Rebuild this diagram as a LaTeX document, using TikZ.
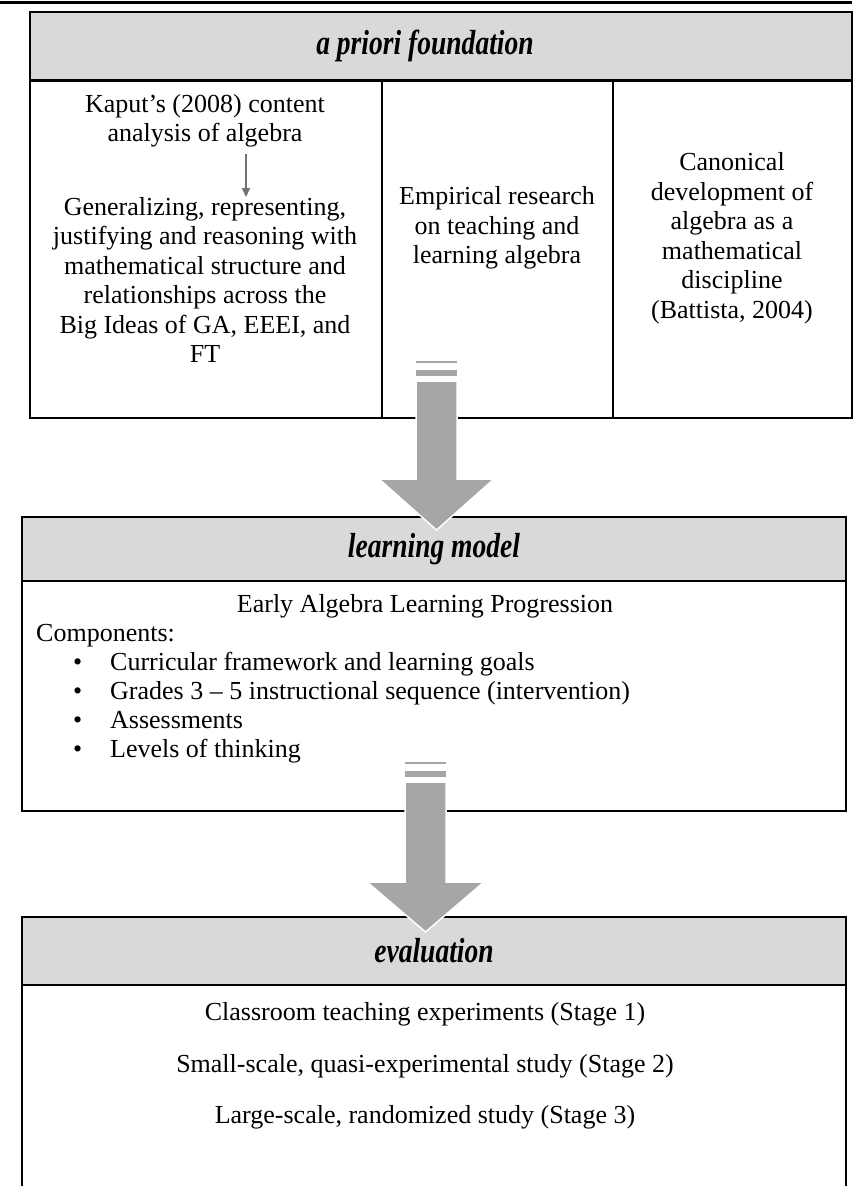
\documentclass[tikz,border=0pt]{standalone}
\usepackage{fontspec}
\setmainfont{Liberation Serif}
\usetikzlibrary{arrows.meta, positioning}
\definecolor{headgray}{HTML}{D9D9D9}
\definecolor{arrowgray}{HTML}{A6A6A6}
\newcommand{\headfont}[1]{\scalebox{0.95}[1.2]{#1}}

\begin{document}
\begin{tikzpicture}[x=1pt, y=-1pt,
    txt/.style={align=center, font=\fontsize{26}{29.5}\selectfont, inner sep=0pt},
    head/.style={draw, line width=2.2pt, fill=headgray, outer sep=0pt},
    headtxt/.style={font=\fontsize{29}{32}\selectfont\bfseries\itshape, inner sep=0pt},
    cell/.style={draw, line width=1.2pt, outer sep=0pt},
    bigarrow/.style={fill=arrowgray, draw=white, line width=1.5pt},
    >=Stealth
  ]
    \useasboundingbox (0,0) rectangle (852,1186);
    \draw[line width=3pt] (0,2) -- (852,2);

    % a priori foundation
    \node[head, minimum width=822pt, minimum height=68pt] (found) at (441,46) {};
    \node[headtxt] (foundtxt) at (425,46) {\headfont{a priori foundation}};
    \node[cell, minimum width=352pt, minimum height=337pt] (colA) at (206,249.5) {};
    \node[cell, minimum width=231pt, minimum height=337pt, right=0pt of colA] (colB) {};
    \node[cell, minimum width=239pt, minimum height=337pt, right=0pt of colB] (colC) {};

    \node[txt] (kaput) at (205,121) {Kaput’s (2008) content\\analysis of algebra};
    \node[txt] (gen) at (205,280) {Generalizing, representing,\\justifying and reasoning with\\mathematical structure and\\relationships across the\\Big Ideas of GA, EEEI, and\\FT};
    \draw[-{Triangle[length=9pt, width=8pt]}, black!55, line width=1.6pt]
        ([xshift=41pt]kaput.south) ++(0,6) -- ([xshift=41pt]gen.north);
    \node[txt] (empir) at (497,228) {Empirical research\\on teaching and\\learning algebra};
    \node[txt] (canon) at (732,238) {Canonical\\development of\\algebra as a\\mathematical\\discipline\\(Battista, 2004)};

    % learning model
    \node[head, minimum width=824pt, minimum height=64pt] (lmhead) at (434,549) {};
    \node[headtxt] (lmtxt) at (lmhead) {\headfont{learning model}};
    \node[cell, minimum width=824pt, minimum height=230pt, below=0pt of lmhead] (lmbody) {};
    \node[txt] (progr) at (425,606) {Early Algebra Learning Progression};
    \node[txt, anchor=base west] (comp) at (36,641) {Components:};
    \foreach \t [count=\i] in {Curricular framework and learning goals,
        Grades 3 -- 5 instructional sequence (intervention),
        Assessments, Levels of thinking}
      \node[txt, anchor=base west] (item\i) at (73,641+29*\i) {\makebox[37pt][l]{\textbullet}\t};

    % evaluation
    \node[head, minimum width=824pt, minimum height=68pt] (evhead) at (434,951) {};
    \node[headtxt] (evtxt) at (evhead) {\headfont{evaluation}};
    \draw[cell] (evhead.south west) -- ++(0,220) (evhead.south east) -- ++(0,220);
    \node[txt] (stage1) at (425,1014) {Classroom teaching experiments (Stage 1)};
    \node[txt] (stage2) at (425,1066) {Small-scale, quasi-experimental study (Stage 2)};
    \node[txt] (stage3) at (425,1117) {Large-scale, randomized study (Stage 3)};

    % big arrows
    \coordinate (a1) at (436.5,381);
    \coordinate (a2) at (425.5,782);
    \draw[bigarrow] (a1) ++(-20.5,0) -- ++(0,98) -- ++(-37,0) -- ++(57.5,51)
        -- ++(57.5,-51) -- ++(-37,0) -- ++(0,-98) -- cycle;
    \fill[arrowgray] (a1) ++(-20.5,-5) rectangle ++(41,-6.5);
    \fill[arrowgray] (a1) ++(-20.5,-18) rectangle ++(41,-2);
    \draw[bigarrow] (a2) ++(-20.5,0) -- ++(0,100) -- ++(-38,0) -- ++(58.5,50)
        -- ++(58.5,-50) -- ++(-38,0) -- ++(0,-100) -- cycle;
    \fill[arrowgray] (a2) ++(-20.5,-5) rectangle ++(41,-6.5);
    \fill[arrowgray] (a2) ++(-20.5,-18) rectangle ++(41,-2);
  \end{tikzpicture}
\end{document}
